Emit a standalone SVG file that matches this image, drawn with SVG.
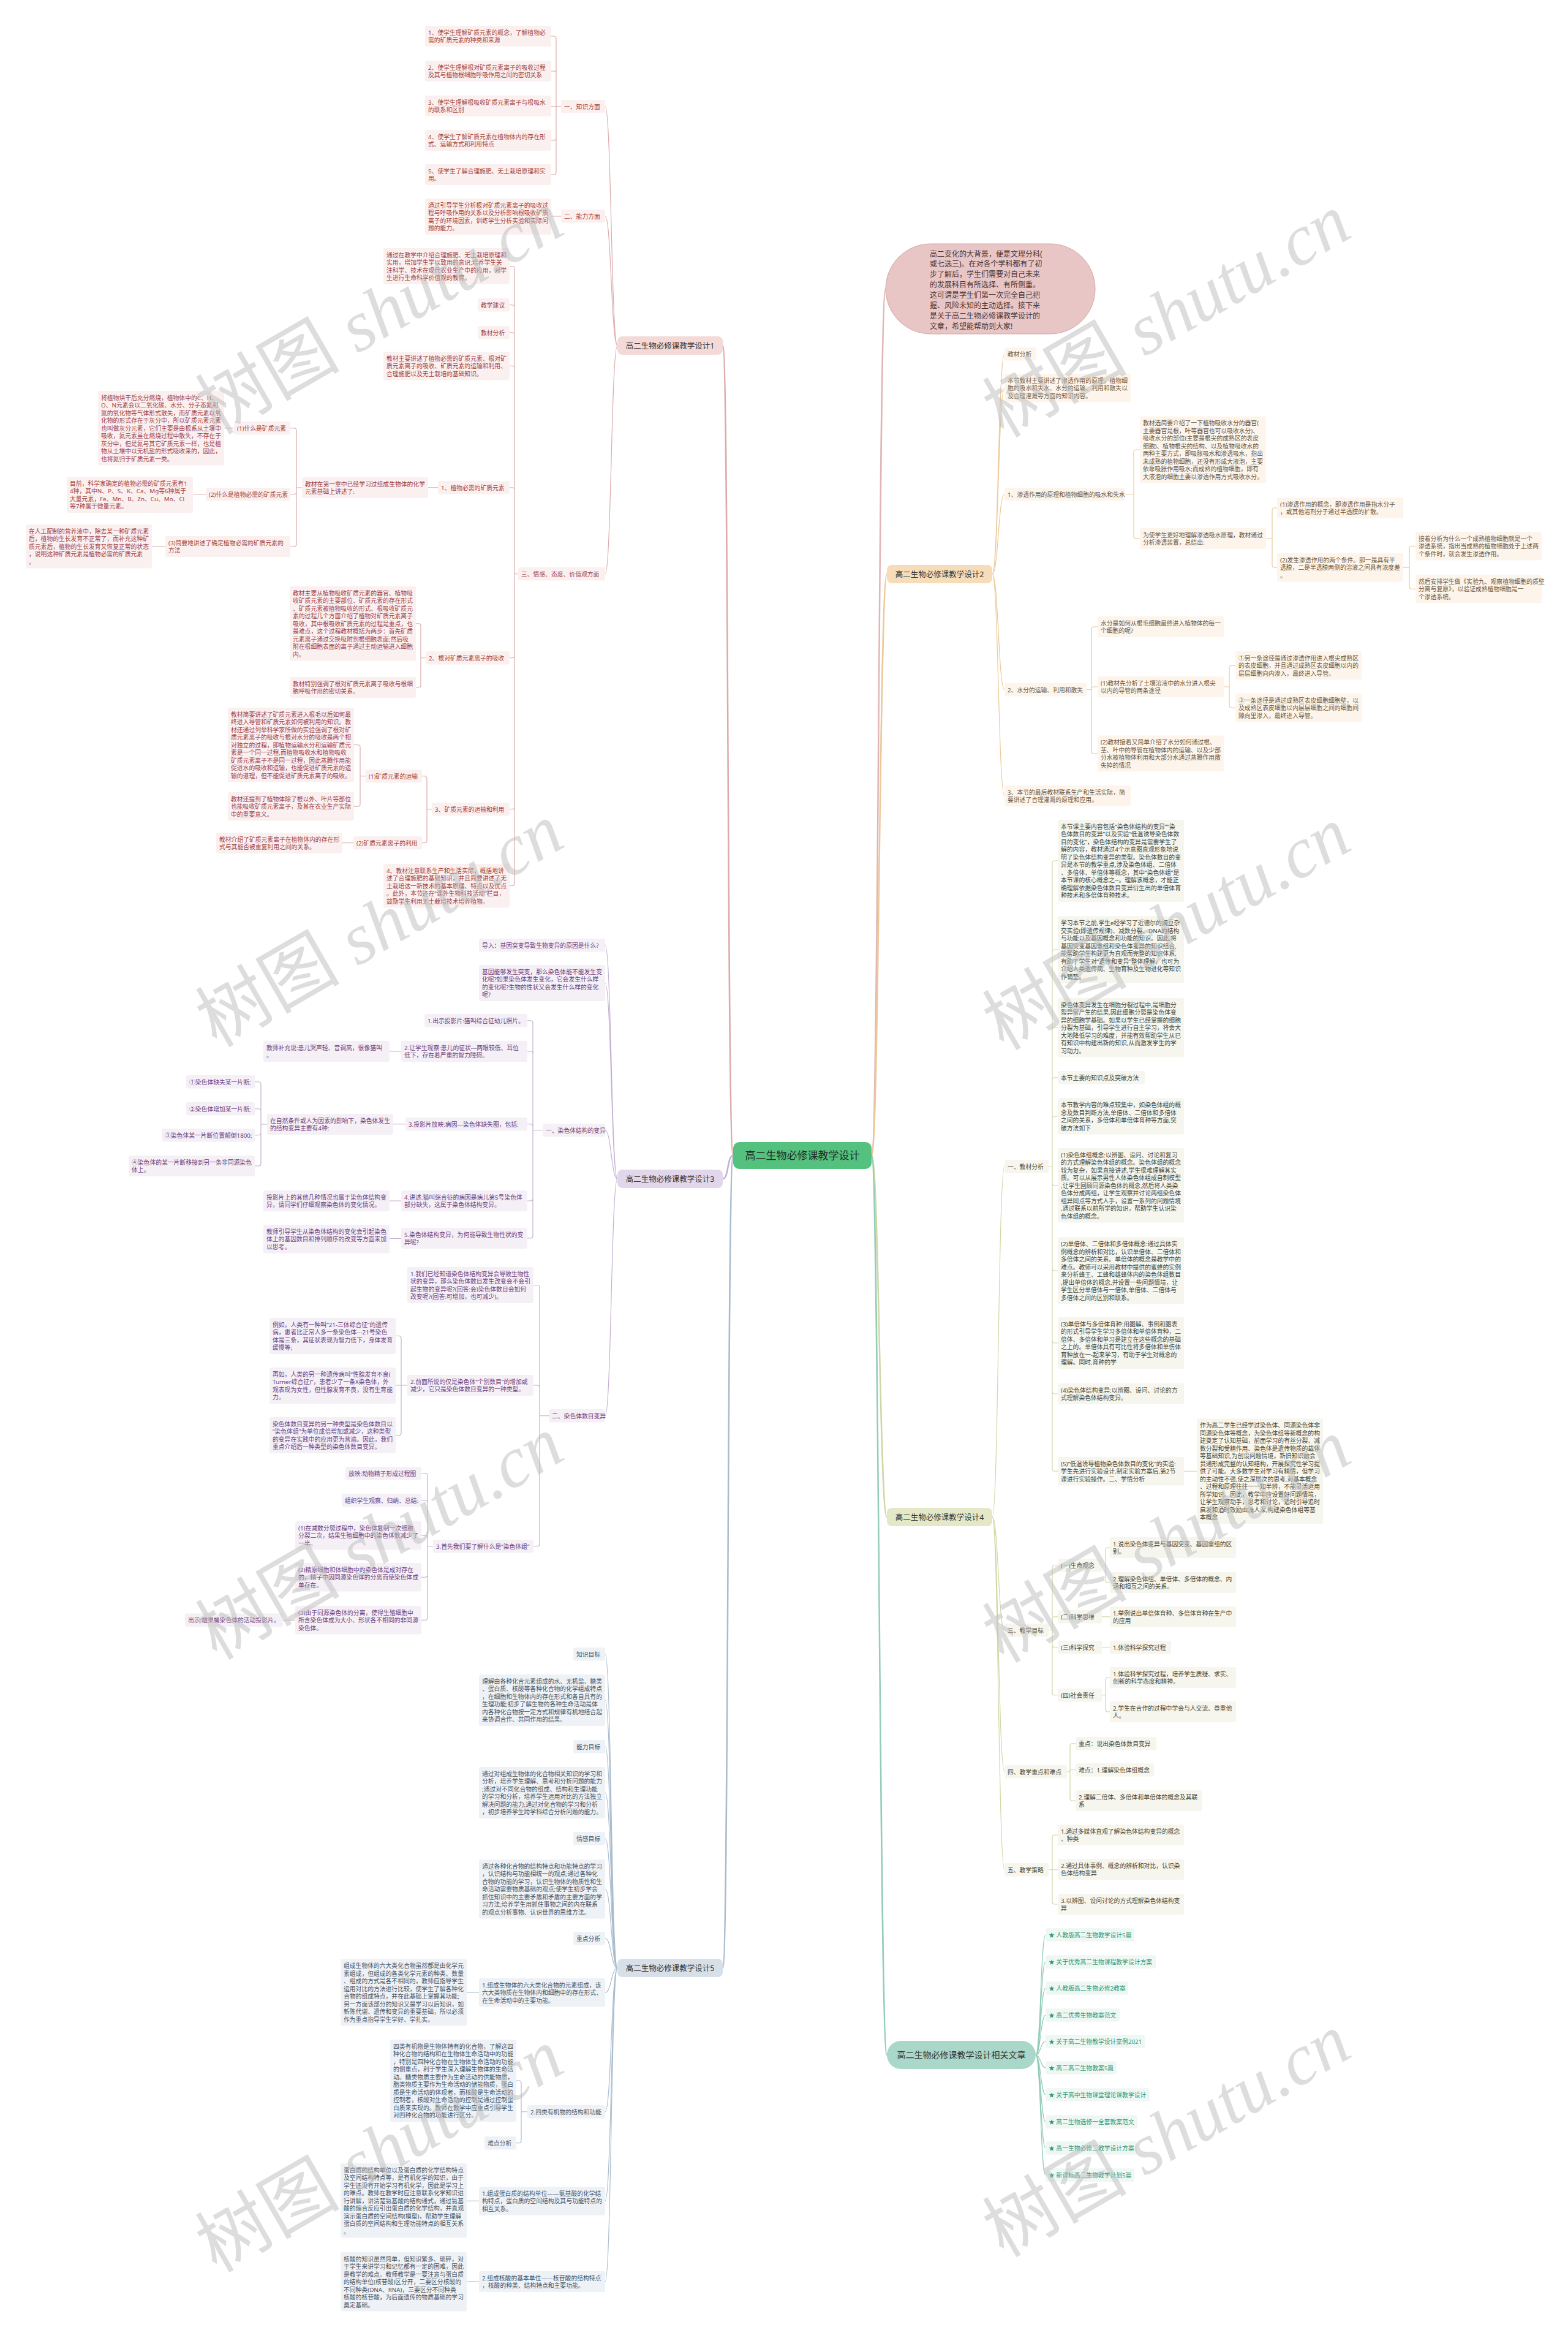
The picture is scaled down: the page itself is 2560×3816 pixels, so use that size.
<svg xmlns="http://www.w3.org/2000/svg" width="2560" height="3816" viewBox="0 0 2560 3816">
<style>
text{font-family:"Noto Sans","Noto Sans CJK SC",sans-serif;font-size:9.8px}
.b1 rect{fill:#fbf0f0}.b1 text{fill:#a2413f}
.b2 rect{fill:#fdf5eb}.b2 text{fill:#6b5640}
.b3 rect{fill:#f4f0f6}.b3 text{fill:#6d3f80}
.b4 rect{fill:#f6f6ee}.b4 text{fill:#45463a}
.b5 rect{fill:#eef2f6}.b5 text{fill:#3f5468}
.b6 rect{fill:#eef7f3}.b6 text{fill:#2b9a7c}
.m text{font-size:12.5px;fill:#333;text-anchor:middle}
.c{fill:none;stroke-width:1.2}
.mc{fill:none;stroke-width:2.5}
.c1{stroke:#dcaaaa}.c2{stroke:#ecc999}.c3{stroke:#c3b0d0}.c4{stroke:#cfd8a4}.c5{stroke:#a9bccd}.c6{stroke:#93cdb9}.c0{stroke:#e2b5b5}
.w text{font-family:"Liberation Serif","Noto Sans CJK SC",serif;font-size:118px;fill:#bdbdbd;opacity:.5;text-anchor:middle}
</style>
<rect width="2560" height="3816" fill="#ffffff"/>

<g id="connectors">
<path class="mc c1" d="M1197 1886C1187 1886 1190 564 1180 564"/>
<path class="mc c3" d="M1197 1886C1187 1886 1190 1924 1180 1924"/>
<path class="mc c5" d="M1197 1886C1187 1886 1190 3212 1180 3212"/>
<path class="mc c0" d="M1423 1886C1435 1886 1434 471.5 1446 471.5"/>
<path class="mc c2" d="M1423 1886C1435 1886 1436 937 1448 937"/>
<path class="mc c4" d="M1423 1886C1435 1886 1436 2476 1448 2476"/>
<path class="mc c6" d="M1423 1886C1435 1886 1436 3354 1448 3354"/>

<path class="c c1" d="M1008 564C998 564 998 173.75 988 173.75M1008 564C998 564 998 352.75 988 352.75M1008 564C998 564 998 936.75 988 936.75"/>
<path class="c c1" d="M916 173.75H908V63Q908 59 904 59H900M916 173.75H908V120Q908 116 904 116H900M916 173.75H900M916 173.75H908V225Q908 229 904 229H900M916 173.75H908V281Q908 285 904 285H900M916 353H900"/>
<path class="c c1" d="M846 936.75H840V438.5Q840 434.5 836 434.5H832M846 936.75H840V501.75Q840 497.75 836 497.75H832M846 936.75H840V546.75Q840 542.75 836 542.75H832M846 936.75H840V601.25Q840 597.25 836 597.25H832M846 936.75H840V799.75Q840 795.75 836 795.75H832M846 936.75H840V1069.75Q840 1073.75 836 1073.75H832M846 936.75H840V1316.75Q840 1320.75 836 1320.75H832M846 936.75H840V1441.75Q840 1445.75 836 1445.75H832"/>
<path class="c c1" d="M715 795.75H699M493 796H484V702.75Q484 698.75 480 698.75H474M493 796H484V802.75Q484 806.75 480 806.75H474M493 796H484V888Q484 892 480 892H474M382 698.75H366M336 806.75H315M270 892H248"/>
<path class="c c1" d="M695 1073.75H687V1021.75Q687 1017.75 683 1017.75H679M695 1073.75H687V1118Q687 1122 683 1122H679M705 1320.75H697V1270.75Q697 1266.75 693 1266.75H689M705 1320.75H697V1371.75Q697 1375.75 693 1375.75H689M597 1266.75H588V1219.75Q588 1215.75 584 1215.75H578M597 1266.75H588V1312.25Q588 1316.25 584 1316.25H578M577 1375.75H559"/>

<path class="c c3" d="M1008 1924C998 1924 998 1542.75 988 1542.75M1008 1924C998 1924 998 1604.5 988 1604.5M1008 1924C998 1924 998 1844.75 988 1844.75M1008 1924C998 1924 998 2310.75 988 2310.75"/>
<path class="c c3" d="M886 1844.75H870V1669.75Q870 1665.75 866 1665.75H861M886 1844.75H870V1720Q870 1716 866 1716H861M886 1844.75H870V1838.75Q870 1834.75 866 1834.75H861M886 1844.75H870V1956Q870 1960 866 1960H861M886 1844.75H870V2017Q870 2021 866 2021H861M655 1716H636M662 1834.75H642M655 1960H636M655 2021.5H636"/>
<path class="c c3" d="M436 1835H426V1769.75Q426 1765.75 422 1765.75H416M436 1835H426V1813.75Q426 1809.75 422 1809.75H416M436 1835H426V1848.75Q426 1852.75 422 1852.75H416M436 1835H426V1899Q426 1903 422 1903H416"/>
<path class="c c3" d="M896 2310.75H881V2101.5Q881 2097.5 877 2097.5H871M896 2310.75H881V2265Q881 2261 877 2261H871M896 2310.75H881V2519.75Q881 2523.75 877 2523.75H871M665 2261H655V2184.5Q655 2180.5 651 2180.5H646M665 2261H646M665 2261H655V2338.5Q655 2342.5 651 2342.5H646"/>
<path class="c c3" d="M707 2523.75H698V2408.75Q698 2404.75 694 2404.75H688M707 2523.75H698V2452.75Q698 2448.75 694 2448.75H688M707 2523.75H698V2510.25Q698 2506.25 694 2506.25H688M707 2523.75H698V2570.25Q698 2574.25 694 2574.25H688M707 2523.75H698V2640.25Q698 2644.25 694 2644.25H688M482 2644.25H462"/>

<path class="c c5" d="M1008 3212C998 3212 998 2699.75 988 2699.75M1008 3212C998 3212 998 2775 988 2775M1008 3212C998 3212 998 2850.75 988 2850.75M1008 3212C998 3212 998 2926 988 2926M1008 3212C998 3212 998 3000.75 988 3000.75M1008 3212C998 3212 998 3083.25 988 3083.25M1008 3212C998 3212 998 3163.75 988 3163.75M1008 3212C998 3212 998 3252.25 988 3252.25M1008 3212C998 3212 998 3446.75 988 3446.75M1008 3212C998 3212 998 3592.25 988 3592.25M1008 3212C998 3212 998 3724 988 3724"/>
<path class="c c5" d="M782 3252.25H762M782 3592.25H762M782 3724H762M861 3446.75H851V3400Q851 3396 847 3396H843M861 3446.75H851V3493.75Q851 3497.75 847 3497.75H843"/>

<path class="c c2" d="M1620 937C1630 937 1630 577.75 1640 577.75M1620 937C1630 937 1630 633.25 1640 633.25M1620 937C1630 937 1630 806.75 1640 806.75M1620 937C1630 937 1630 1125.75 1640 1125.75M1620 937C1630 937 1630 1299 1640 1299"/>
<path class="c c2" d="M1837 806.75H1851V738Q1851 734 1855 734H1861M1837 806.75H1851V875Q1851 879 1855 879H1861M2067 879H2077V833Q2077 829 2081 829H2085M2067 879H2077V922.25Q2077 926.25 2081 926.25H2085M2291 926.25H2301V895.25Q2301 891.25 2305 891.25H2311M2291 926.25H2301V957.25Q2301 961.25 2305 961.25H2311"/>
<path class="c c2" d="M1774 1125.75H1782V1027Q1782 1023 1786 1023H1792M1774 1125.75H1782V1125Q1782 1121 1786 1121H1792M1774 1125.75H1782V1226Q1782 1230 1786 1230H1792M1998 1121H2007V1090.25Q2007 1086.25 2011 1086.25H2017M1998 1121H2007V1151.25Q2007 1155.25 2011 1155.25H2017"/>

<path class="c c4" d="M1620 2476C1630 2476 1630 1903.75 1640 1903.75M1620 2476C1630 2476 1630 2660.75 1640 2660.75M1620 2476C1630 2476 1630 2891.75 1640 2891.75M1620 2476C1630 2476 1630 3051.75 1640 3051.75"/>
<path class="c c4" d="M1712 1903.75H1718V1409Q1718 1405 1722 1405H1727M1712 1903.75H1718V1554Q1718 1550 1722 1550H1727M1712 1903.75H1718V1681.25Q1718 1677.25 1722 1677.25H1727M1712 1903.75H1718V1762.75Q1718 1758.75 1722 1758.75H1727M1712 1903.75H1718V1826Q1718 1822 1722 1822H1727M1712 1903.75H1718V1930.75Q1718 1934.75 1722 1934.75H1727M1712 1903.75H1718V2070Q1718 2074 1722 2074H1727M1712 1903.75H1718V2188Q1718 2192 1722 2192H1727M1712 1903.75H1718V2271Q1718 2275 1722 2275H1727M1712 1903.75H1718V2397.25Q1718 2401.25 1722 2401.25H1727M1933 2401.25H1954"/>
<path class="c c4" d="M1712 2660.75H1718V2558.75Q1718 2554.75 1722 2554.75H1727M1712 2660.75H1718V2642.75Q1718 2638.75 1722 2638.75H1727M1712 2660.75H1718V2684.75Q1718 2688.75 1722 2688.75H1727M1712 2660.75H1718V2762.75Q1718 2766.75 1722 2766.75H1727M1799 2554.75H1805V2530Q1805 2526 1809 2526H1812M1799 2554.75H1805V2579Q1805 2583 1809 2583H1812M1799 2638.75H1812M1799 2688.75H1812M1799 2766.75H1805V2742Q1805 2738 1809 2738H1812M1799 2766.75H1805V2790Q1805 2794 1809 2794H1812"/>
<path class="c c4" d="M1742 2891.75H1747V2849.75Q1747 2845.75 1751 2845.75H1756M1742 2891.75H1747V2888.75H1756M1742 2891.75H1747V2935Q1747 2939 1751 2939H1756M1712 3051.75H1718V2999Q1718 2995 1722 2995H1727M1712 3051.75H1727M1712 3051.75H1718V3104Q1718 3108 1722 3108H1727"/>

<path class="c c6" d="M1691 3354C1699 3354 1699 3158 1707 3158M1691 3354C1699 3354 1699 3202 1707 3202M1691 3354C1699 3354 1699 3245 1707 3245M1691 3354C1699 3354 1699 3289 1707 3289M1691 3354C1699 3354 1699 3332 1707 3332M1691 3354C1699 3354 1699 3375 1707 3375M1691 3354C1699 3354 1699 3419 1707 3419M1691 3354C1699 3354 1699 3463 1707 3463M1691 3354C1699 3354 1699 3506 1707 3506M1691 3354C1699 3354 1699 3550 1707 3550"/>
</g>

<g id="center" class="m"><rect x="1197" y="1864" width="226" height="44" rx="10" fill="#55c17f"/><text x="1310" y="1892" style="font-size:17px;fill:#1e2e24">高二生物必修课教学设计</text></g>

<g id="intro"><rect x="1446" y="398" width="342" height="147" rx="73.5" fill="#e9c6c6" stroke="#d6a2a2" stroke-width="1"/>
<text x="1518" y="418.5" style="font-size:12px;fill:#4a3535"><tspan x="1518">高二变化的大背景，便是文理分科(</tspan><tspan x="1518" dy="16.9">或七选三)。在对各个学科都有了初</tspan><tspan x="1518" dy="16.9">步了解后，学生们需要对自己未来</tspan><tspan x="1518" dy="16.9">的发展科目有所选择、有所侧重。</tspan><tspan x="1518" dy="16.9">这可谓是学生们第一次完全自己把</tspan><tspan x="1518" dy="16.9">握、风险未知的主动选择。接下来</tspan><tspan x="1518" dy="16.9">是关于高二生物必修课教学设计的</tspan><tspan x="1518" dy="16.9">文章，希望能帮助到大家!</tspan></text></g>

<!-- Branch 1 -->
<g id="n1" class="m"><rect x="1008" y="549" width="172" height="30" rx="8" fill="#f3d9d7"/><text x="1094" y="568.5">高二生物必修课教学设计1</text></g>
<g class="b1">
<g id="b1-k1"><rect x="916" y="163" width="72" height="21.5" rx="3"/><text x="921" y="177.5">一、知识方面</text></g>
<g id="b1-k2"><rect x="916" y="342" width="72" height="21.5" rx="3"/><text x="921" y="356.5">二、能力方面</text></g>
<g id="b1-k3"><rect x="846" y="926" width="142" height="21.5" rx="3"/><text x="851" y="940.5">三、情感、态度、价值观方面</text></g>
<g id="b1-k1a"><rect x="694" y="42" width="206" height="34" rx="3"/><text y="56.5"><tspan x="699">1、使学生理解矿质元素的概念，了解植物必</tspan><tspan x="699" dy="12.5">需的矿质元素的种类和来源</tspan></text></g>
<g id="b1-k1b"><rect x="694" y="99" width="206" height="34" rx="3"/><text y="113.5"><tspan x="699">2、使学生理解根对矿质元素离子的吸收过程</tspan><tspan x="699" dy="12.5">及其与植物根细胞呼吸作用之间的密切关系</tspan></text></g>
<g id="b1-k1c"><rect x="694" y="156" width="206" height="34" rx="3"/><text y="170.5"><tspan x="699">3、使学生理解根吸收矿质元素离子与根吸水</tspan><tspan x="699" dy="12.5">的联系和区别</tspan></text></g>
<g id="b1-k1d"><rect x="694" y="212" width="206" height="34" rx="3"/><text y="226.5"><tspan x="699">4、使学生了解矿质元素在植物体内的存在形</tspan><tspan x="699" dy="12.5">式、运输方式和利用特点</tspan></text></g>
<g id="b1-k1e"><rect x="694" y="268" width="206" height="34" rx="3"/><text y="282.5"><tspan x="699">5、使学生了解合理施肥、无土栽培原理和实</tspan><tspan x="699" dy="12.5">用。</tspan></text></g>
<g id="b1-k2a"><rect x="694" y="324" width="206" height="59" rx="3"/><text y="338.5"><tspan x="699">通过引导学生分析根对矿质元素离子的吸收过</tspan><tspan x="699" dy="12.5">程与呼吸作用的关系以及分析影响根吸收矿质</tspan><tspan x="699" dy="12.5">离子的环境因素，训练学生分析实验和实际问</tspan><tspan x="699" dy="12.5">题的能力。</tspan></text></g>
<g id="b1-k3a"><rect x="626" y="405" width="206" height="59" rx="3"/><text y="419.5"><tspan x="631">通过在教学中介绍合理施肥、无土栽培原理和</tspan><tspan x="631" dy="12.5">实用，增加学生学以致用的意识;培养学生关</tspan><tspan x="631" dy="12.5">注科学、技术在现代农业生产中的应用，对学</tspan><tspan x="631" dy="12.5">生进行生命科学价值观的教育。</tspan></text></g>
<g id="b1-k3b"><rect x="780" y="487" width="52" height="21.5" rx="3"/><text x="785" y="501.5">教学建议</text></g>
<g id="b1-k3c"><rect x="780" y="532" width="52" height="21.5" rx="3"/><text x="785" y="546.5">教材分析</text></g>
<g id="b1-k3d"><rect x="626" y="574" width="206" height="46.5" rx="3"/><text y="588.5"><tspan x="631">教材主要讲述了植物必需的矿质元素、根对矿</tspan><tspan x="631" dy="12.5">质元素离子的吸收、矿质元素的运输和利用、</tspan><tspan x="631" dy="12.5">合理施肥以及无土栽培的基础知识。</tspan></text></g>
<g id="b1-k3e"><rect x="715" y="785" width="117" height="21.5" rx="3"/><text x="720" y="799.5">1、植物必需的矿质元素</text></g>
<g id="b1-k3f"><rect x="695" y="1063" width="137" height="21.5" rx="3"/><text x="700" y="1077.5">2、根对矿质元素离子的吸收</text></g>
<g id="b1-k3g"><rect x="705" y="1310" width="127" height="21.5" rx="3"/><text x="710" y="1324.5">3、矿质元素的运输和利用</text></g>
<g id="b1-k3h"><rect x="626" y="1410" width="206" height="71.5" rx="3"/><text y="1424.5"><tspan x="631">4、教材注意联系生产和生活实际，概括地讲</tspan><tspan x="631" dy="12.5">述了合理施肥的基础知识，并且简要讲述了无</tspan><tspan x="631" dy="12.5">土栽培这一新技术的基本原理、特点以及优点</tspan><tspan x="631" dy="12.5">。此外，本节还在“课外生物科技活动”栏目，</tspan><tspan x="631" dy="12.5">鼓励学生利用无土栽培技术培养植物。</tspan></text></g>
<g id="b1-e1"><rect x="493" y="779" width="206" height="34" rx="3"/><text y="793.5"><tspan x="498">教材在第一章中已经学习过组成生物体的化学</tspan><tspan x="498" dy="12.5">元素基础上讲述了:</tspan></text></g>
<g id="b1-p1"><rect x="382" y="688" width="92" height="21.5" rx="3"/><text x="387" y="702.5">(1)什么是矿质元素</text></g>
<g id="b1-p2"><rect x="336" y="796" width="138" height="21.5" rx="3"/><text x="341" y="810.5">(2)什么是植物必需的矿质元素</text></g>
<g id="b1-p3"><rect x="270" y="875" width="204" height="34" rx="3"/><text y="889.5"><tspan x="275">(3)简要地讲述了确定植物必需的矿质元素的</tspan><tspan x="275" dy="12.5">方法</tspan></text></g>
<g id="b1-f1"><rect x="160" y="638" width="206" height="121.5" rx="3"/><text y="652.5"><tspan x="165">将植物烘干后充分燃烧，植物体中的C、H、</tspan><tspan x="165" dy="12.5">O、N元素会以二氧化碳、水分、分子态氮和</tspan><tspan x="165" dy="12.5">氮的氧化物等气体形式散失，而矿质元素以氧</tspan><tspan x="165" dy="12.5">化物的形式存在于灰分中，所以矿质元素元素</tspan><tspan x="165" dy="12.5">也叫做灰分元素，它们主要是由根系从土壤中</tspan><tspan x="165" dy="12.5">吸收，氮元素虽在燃烧过程中散失，不存在于</tspan><tspan x="165" dy="12.5">灰分中，但是氮与其它矿质元素一样，也是植</tspan><tspan x="165" dy="12.5">物从土壤中以无机盐的形式吸收来的，因此，</tspan><tspan x="165" dy="12.5">也将氮归于矿质元素一类。</tspan></text></g>
<g id="b1-f2"><rect x="109" y="778" width="206" height="59" rx="3"/><text y="792.5"><tspan x="114">目前，科学家确定的植物必需的矿质元素有1</tspan><tspan x="114" dy="12.5">4种，其中N、P、S、K、Ca、Mg等6种属于</tspan><tspan x="114" dy="12.5">大量元素，Fe、Mn、B、Zn、Cu、Mo、Cl</tspan><tspan x="114" dy="12.5">等7种属于微量元素。</tspan></text></g>
<g id="b1-f3"><rect x="42" y="856" width="206" height="71.5" rx="3"/><text y="870.5"><tspan x="47">在人工配制的营养液中，除去某一种矿质元素</tspan><tspan x="47" dy="12.5">后，植物的生长发育不正常了，而补充这种矿</tspan><tspan x="47" dy="12.5">质元素后，植物的生长发育又恢复正常的状态</tspan><tspan x="47" dy="12.5">，说明这种矿质元素是植物必需的矿质元素</tspan><tspan x="47" dy="12.5">。</tspan></text></g>
<g id="b1-bb1"><rect x="473" y="957" width="206" height="121.5" rx="3"/><text y="971.5"><tspan x="478">教材主要从植物吸收矿质元素的器官、植物吸</tspan><tspan x="478" dy="12.5">收矿质元素的主要部位、矿质元素的存在形式</tspan><tspan x="478" dy="12.5">、矿质元素被植物吸收的形式、根吸收矿质元</tspan><tspan x="478" dy="12.5">素的过程几个方面介绍了植物对矿质元素离子</tspan><tspan x="478" dy="12.5">吸收，其中根吸收矿质元素的过程是重点，也</tspan><tspan x="478" dy="12.5">是难点，这个过程教材概括为两步：首先矿质</tspan><tspan x="478" dy="12.5">元素离子通过交换吸附到根细胞表面;然后吸</tspan><tspan x="478" dy="12.5">附在根细胞表面的离子通过主动运输进入细胞</tspan><tspan x="478" dy="12.5">内。</tspan></text></g>
<g id="b1-bb2"><rect x="473" y="1105" width="206" height="34" rx="3"/><text y="1119.5"><tspan x="478">教材特别强调了根对矿质元素离子吸收与根细</tspan><tspan x="478" dy="12.5">胞呼吸作用的密切关系。</tspan></text></g>
<g id="b1-q1"><rect x="597" y="1256" width="92" height="21.5" rx="3"/><text x="602" y="1270.5">(1)矿质元素的运输</text></g>
<g id="b1-q2"><rect x="577" y="1365" width="112" height="21.5" rx="3"/><text x="582" y="1379.5">(2)矿质元素离子的利用</text></g>
<g id="b1-g1"><rect x="372" y="1155" width="206" height="121.5" rx="3"/><text y="1169.5"><tspan x="377">教材简要讲述了矿质元素进入根毛以后如何最</tspan><tspan x="377" dy="12.5">终进入导管和矿质元素如何被利用的知识。教</tspan><tspan x="377" dy="12.5">材还通过列举科学家所做的实验强调了根对矿</tspan><tspan x="377" dy="12.5">质元素离子的吸收与根对水分的吸收是两个相</tspan><tspan x="377" dy="12.5">对独立的过程，即植物运输水分和运输矿质元</tspan><tspan x="377" dy="12.5">素是一个同一过程,而植物吸收水和植物吸收</tspan><tspan x="377" dy="12.5">矿质元素离子不是同一过程，因此蒸腾作用能</tspan><tspan x="377" dy="12.5">促进水的吸收和运输，也能促进矿质元素的运</tspan><tspan x="377" dy="12.5">输的道理，但不能促进矿质元素离子的吸收。</tspan></text></g>
<g id="b1-g2"><rect x="372" y="1293" width="206" height="46.5" rx="3"/><text y="1307.5"><tspan x="377">教材还提到了植物体除了根以外、叶片等部位</tspan><tspan x="377" dy="12.5">也能吸收矿质元素离子，及其在农业生产实际</tspan><tspan x="377" dy="12.5">中的重要意义。</tspan></text></g>
<g id="b1-g3"><rect x="353" y="1359" width="206" height="34" rx="3"/><text y="1373.5"><tspan x="358">教材介绍了矿质元素离子在植物体内的存在形</tspan><tspan x="358" dy="12.5">式与其能否被重复利用之间的关系。</tspan></text></g>
</g>

<!-- Branch 3 -->
<g id="n3" class="m"><rect x="1008" y="1909" width="172" height="30" rx="8" fill="#e2d7ea"/><text x="1094" y="1928.5">高二生物必修课教学设计3</text></g>
<g class="b3">
<g id="b3-a"><rect x="782" y="1532" width="206" height="21.5" rx="3"/><text x="787" y="1546.5">导入：基因突变导致生物变异的原因是什么?</text></g>
<g id="b3-b"><rect x="782" y="1575" width="206" height="59" rx="3"/><text y="1589.5"><tspan x="787">基因能够发生突变，那么染色体能不能发生变</tspan><tspan x="787" dy="12.5">化呢?如果染色体发生变化，它会发生什么样</tspan><tspan x="787" dy="12.5">的变化呢?生物的性状又会发生什么样的变化</tspan><tspan x="787" dy="12.5">呢?</tspan></text></g>
<g id="b3-c"><rect x="886" y="1834" width="102" height="21.5" rx="3"/><text x="891" y="1848.5">一、染色体结构的变异</text></g>
<g id="b3-d"><rect x="896" y="2300" width="92" height="21.5" rx="3"/><text x="901" y="2314.5">二、染色体数目变异</text></g>
<g id="b3-s1"><rect x="693" y="1655" width="168" height="21.5" rx="3"/><text x="698" y="1669.5">1.出示投影片:猫叫综合征幼儿照片。</text></g>
<g id="b3-s2"><rect x="655" y="1699" width="206" height="34" rx="3"/><text y="1713.5"><tspan x="660">2.让学生观察:患儿的征状---两眼较低、耳位</tspan><tspan x="660" dy="12.5">低下，存在着严重的智力障碍。</tspan></text></g>
<g id="b3-s3"><rect x="662" y="1824" width="199" height="21.5" rx="3"/><text x="667" y="1838.5">3.投影片放映:病因---染色体缺失图，包括:</text></g>
<g id="b3-s4"><rect x="655" y="1943" width="206" height="34" rx="3"/><text y="1957.5"><tspan x="660">4.讲述:猫叫综合征的病因是病儿第5号染色体</tspan><tspan x="660" dy="12.5">部分缺失，这属于染色体结构变异。</tspan></text></g>
<g id="b3-s5"><rect x="655" y="2004" width="206" height="34" rx="3"/><text y="2018.5"><tspan x="660">5.染色体结构变异，为何能导致生物性状的变</tspan><tspan x="660" dy="12.5">异呢?</tspan></text></g>
<g id="b3-t2"><rect x="430" y="1699" width="206" height="34" rx="3"/><text y="1713.5"><tspan x="435">教师补充说:患儿哭声轻、音调高，很像猫叫</tspan><tspan x="435" dy="12.5">。</tspan></text></g>
<g id="b3-t3"><rect x="436" y="1818" width="206" height="34" rx="3"/><text y="1832.5"><tspan x="441">在自然条件或人为因素的影响下，染色体发生</tspan><tspan x="441" dy="12.5">的结构变异主要有4种:</tspan></text></g>
<g id="b3-u1"><rect x="304" y="1755" width="112" height="21.5" rx="3"/><text x="309" y="1769.5">①染色体缺失某一片断;</text></g>
<g id="b3-u2"><rect x="304" y="1799" width="112" height="21.5" rx="3"/><text x="309" y="1813.5">②染色体增加某一片断;</text></g>
<g id="b3-u3"><rect x="264" y="1842" width="152" height="21.5" rx="3"/><text x="269" y="1856.5">③染色体某一片断位置颠倒1800;</text></g>
<g id="b3-u4"><rect x="210" y="1886" width="206" height="34" rx="3"/><text y="1900.5"><tspan x="215">④染色体的某一片断移接到另一条非同源染色</tspan><tspan x="215" dy="12.5">体上。</tspan></text></g>
<g id="b3-t4"><rect x="430" y="1943" width="206" height="34" rx="3"/><text y="1957.5"><tspan x="435">投影片上的其他几种情况也属于染色体结构变</tspan><tspan x="435" dy="12.5">异，请同学们仔细观察染色体的变化情况。</tspan></text></g>
<g id="b3-t5"><rect x="430" y="1999" width="206" height="46.5" rx="3"/><text y="2013.5"><tspan x="435">教师引导学生从染色体结构的变化会引起染色</tspan><tspan x="435" dy="12.5">体上的基因数目和排列顺序的改变等方面来加</tspan><tspan x="435" dy="12.5">以思考。</tspan></text></g>
<g id="b3-n1"><rect x="665" y="2068" width="206" height="59" rx="3"/><text y="2082.5"><tspan x="670">1.我们已经知道染色体结构变异会导致生物性</tspan><tspan x="670" dy="12.5">状的变异，那么染色体数目发生改变会不会引</tspan><tspan x="670" dy="12.5">起生物的变异呢?(回答:会)染色体数目会如何</tspan><tspan x="670" dy="12.5">改变呢?(回答:可增加，也可减少)。</tspan></text></g>
<g id="b3-n2"><rect x="665" y="2244" width="206" height="34" rx="3"/><text y="2258.5"><tspan x="670">2.前面所说的仅是染色体“个别数目”的增加或</tspan><tspan x="670" dy="12.5">减少，它只是染色体数目变异的一种类型。</tspan></text></g>
<g id="b3-n3"><rect x="707" y="2513" width="164" height="21.5" rx="3"/><text x="712" y="2527.5">3.首先我们要了解什么是“染色体组”</text></g>
<g id="b3-m1"><rect x="440" y="2151" width="206" height="59" rx="3"/><text y="2165.5"><tspan x="445">例如，人类有一种叫“21-三体综合征”的遗传</tspan><tspan x="445" dy="12.5">病，患者比正常人多一条染色体---21号染色</tspan><tspan x="445" dy="12.5">体是三条，其征状表现为智力低下，身体发育</tspan><tspan x="445" dy="12.5">缓慢等;</tspan></text></g>
<g id="b3-m2"><rect x="440" y="2232" width="206" height="59" rx="3"/><text y="2246.5"><tspan x="445">再如，人类的另一种遗传病叫“性腺发育不良(</tspan><tspan x="445" dy="12.5">Turner综合征)”，患者少了一条X染色体，外</tspan><tspan x="445" dy="12.5">观表现为女性，但性腺发育不良，没有生育能</tspan><tspan x="445" dy="12.5">力。</tspan></text></g>
<g id="b3-m3"><rect x="440" y="2313" width="206" height="59" rx="3"/><text y="2327.5"><tspan x="445">染色体数目变异的另一种类型是染色体数目以</tspan><tspan x="445" dy="12.5">“染色体组”为单位成倍增加或减少，这种类型</tspan><tspan x="445" dy="12.5">的变异在实践中的应用更为普遍。因此，我们</tspan><tspan x="445" dy="12.5">重点介绍后一种类型的染色体数目变异。</tspan></text></g>
<g id="b3-p1"><rect x="564" y="2394" width="124" height="21.5" rx="3"/><text x="569" y="2408.5">放映:动物精子形成过程图</text></g>
<g id="b3-p2"><rect x="558" y="2438" width="130" height="21.5" rx="3"/><text x="563" y="2452.5">组织学生观察、归纳、总结:</text></g>
<g id="b3-p3"><rect x="482" y="2483" width="206" height="46.5" rx="3"/><text y="2497.5"><tspan x="487">(1)在减数分裂过程中，染色体复制一次细胞</tspan><tspan x="487" dy="12.5">分裂二次，结果生殖细胞中的染色体数减少了</tspan><tspan x="487" dy="12.5">一半。</tspan></text></g>
<g id="b3-p4"><rect x="482" y="2551" width="206" height="46.5" rx="3"/><text y="2565.5"><tspan x="487">(2)精原细胞和体细胞中的染色体是成对存在</tspan><tspan x="487" dy="12.5">的，精子中因同源染色体的分离而使染色体成</tspan><tspan x="487" dy="12.5">单存在。</tspan></text></g>
<g id="b3-p5"><rect x="482" y="2621" width="206" height="46.5" rx="3"/><text y="2635.5"><tspan x="487">(3)由于同源染色体的分离，使得生殖细胞中</tspan><tspan x="487" dy="12.5">所含染色体成为大小、形状各不相同的非同源</tspan><tspan x="487" dy="12.5">染色体。</tspan></text></g>
<g id="b3-p6"><rect x="302" y="2633.5" width="160" height="21.5" rx="3"/><text x="307" y="2648">出示:雄果蝇染色体的活动投影片。</text></g>
</g>

<!-- Branch 5 -->
<g id="n5" class="m"><rect x="1008" y="3197" width="172" height="30" rx="8" fill="#d7e0e9"/><text x="1094" y="3216.5">高二生物必修课教学设计5</text></g>
<g class="b5">
<g id="b5-z1"><rect x="936" y="2689" width="52" height="21.5" rx="3"/><text x="941" y="2703.5">知识目标</text></g>
<g id="b5-r1"><rect x="782" y="2733" width="206" height="84" rx="3"/><text y="2747.5"><tspan x="787">理解由各种化合元素组成的水、无机盐、糖类</tspan><tspan x="787" dy="12.5">、蛋白质、核酸等各种化合物的化学组成特点</tspan><tspan x="787" dy="12.5">，在细胞和生物体内的存在形式和各自具有的</tspan><tspan x="787" dy="12.5">生理功能;初步了解生物的各种生命活动是体</tspan><tspan x="787" dy="12.5">内各种化合物按一定方式和规律有机地结合起</tspan><tspan x="787" dy="12.5">来协调合作、共同作用的结果。</tspan></text></g>
<g id="b5-z2"><rect x="936" y="2840" width="52" height="21.5" rx="3"/><text x="941" y="2854.5">能力目标</text></g>
<g id="b5-r2"><rect x="782" y="2884" width="206" height="84" rx="3"/><text y="2898.5"><tspan x="787">通过对组成生物体的化合物相关知识的学习和</tspan><tspan x="787" dy="12.5">分析，培养学生理解、思考和分析问题的能力</tspan><tspan x="787" dy="12.5">;通过对不同化合物的组成、结构和生理功能</tspan><tspan x="787" dy="12.5">的学习和分析，培养学生运用对比的方法独立</tspan><tspan x="787" dy="12.5">解决问题的能力;通过对化合物的学习和分析</tspan><tspan x="787" dy="12.5">，初步培养学生跨学科综合分析问题的能力。</tspan></text></g>
<g id="b5-z3"><rect x="936" y="2990" width="52" height="21.5" rx="3"/><text x="941" y="3004.5">情感目标</text></g>
<g id="b5-r3"><rect x="782" y="3035" width="206" height="96.5" rx="3"/><text y="3049.5"><tspan x="787">通过各种化合物的结构特点和功能特点的学习</tspan><tspan x="787" dy="12.5">，认识结构与功能相统一的观点;通过各种化</tspan><tspan x="787" dy="12.5">合物的功能的学习，认识生物体的物质性和生</tspan><tspan x="787" dy="12.5">命活动需要物质基础的观点;使学生初步学会</tspan><tspan x="787" dy="12.5">抓住知识中的主要矛盾和矛盾的主要方面的学</tspan><tspan x="787" dy="12.5">习方法;培养学生用抓住事物之间的内在联系</tspan><tspan x="787" dy="12.5">的观点分析事物、认识世界的思维方法。</tspan></text></g>
<g id="b5-z4"><rect x="936" y="3153" width="52" height="21.5" rx="3"/><text x="941" y="3167.5">重点分析</text></g>
<g id="b5-r4"><rect x="782" y="3229" width="206" height="46.5" rx="3"/><text y="3243.5"><tspan x="787">1.组成生物体的六大类化合物的元素组成，该</tspan><tspan x="787" dy="12.5">六大类物质在生物体内和细胞中的存在形式、</tspan><tspan x="787" dy="12.5">在生命活动中的主要功能。</tspan></text></g>
<g id="b5-r5"><rect x="861" y="3436" width="127" height="21.5" rx="3"/><text x="866" y="3450.5">2.四类有机物的结构和功能</text></g>
<g id="b5-r6"><rect x="782" y="3569" width="206" height="46.5" rx="3"/><text y="3583.5"><tspan x="787">1.组成蛋白质的结构单位——氨基酸的化学结</tspan><tspan x="787" dy="12.5">构特点，蛋白质的空间结构及其与功能特点的</tspan><tspan x="787" dy="12.5">相互关系。</tspan></text></g>
<g id="b5-r7"><rect x="782" y="3707" width="206" height="34" rx="3"/><text y="3721.5"><tspan x="787">2.组成核酸的基本单位——核苷酸的结构特点</tspan><tspan x="787" dy="12.5">，核酸的种类、结构特点和主要功能。</tspan></text></g>
<g id="b5-q1"><rect x="556" y="3197.5" width="206" height="109" rx="3"/><text y="3212"><tspan x="561">组成生物体的六大类化合物虽然都是由化学元</tspan><tspan x="561" dy="12.5">素组成，但组成的各类化学元素的种类、数量</tspan><tspan x="561" dy="12.5">、组成的方式是各不相同的，教师应指导学生</tspan><tspan x="561" dy="12.5">运用对比的方法进行比较，使学生了解各种化</tspan><tspan x="561" dy="12.5">合物的组成特点，并在此基础上掌握其功能;</tspan><tspan x="561" dy="12.5">另一方面该部分的知识又是学习以后知识，如</tspan><tspan x="561" dy="12.5">新陈代谢、遗传和变异的重要基础，所以必须</tspan><tspan x="561" dy="12.5">作为重点指导学生学好、学扎实。</tspan></text></g>
<g id="b5-q2"><rect x="637" y="3329" width="206" height="134" rx="3"/><text y="3343.5"><tspan x="642">四类有机物是生物体特有的化合物，了解这四</tspan><tspan x="642" dy="12.5">种化合物的结构和在生物体生命活动中的功能</tspan><tspan x="642" dy="12.5">，特别是四种化合物在生物体生命活动的功能</tspan><tspan x="642" dy="12.5">的侧重点，利于学生深入理解生物体的生命活</tspan><tspan x="642" dy="12.5">动。糖类物质主要作为生命活动的供能物质，</tspan><tspan x="642" dy="12.5">脂类物质主要作为生命活动的储能物质，蛋白</tspan><tspan x="642" dy="12.5">质是生命活动的体现者，而核酸是生命活动的</tspan><tspan x="642" dy="12.5">控制者，核酸对生命活动的控制是通过控制蛋</tspan><tspan x="642" dy="12.5">白质来实现的。教师在教学中应重点引导学生</tspan><tspan x="642" dy="12.5">对四种化合物的功能进行区分。</tspan></text></g>
<g id="b5-q2b"><rect x="791" y="3487" width="52" height="21.5" rx="3"/><text x="796" y="3501.5">难点分析</text></g>
<g id="b5-q3"><rect x="556" y="3531" width="206" height="121.5" rx="3"/><text y="3545.5"><tspan x="561">蛋白质的结构单位以及蛋白质的化学结构特点</tspan><tspan x="561" dy="12.5">及空间结构特点等，是有机化学的知识，由于</tspan><tspan x="561" dy="12.5">学生还没有开始学习有机化学，因此是学习上</tspan><tspan x="561" dy="12.5">的难点。教师在教学时应注意联系化学知识进</tspan><tspan x="561" dy="12.5">行讲解，讲清楚氨基酸的结构通式，通过氨基</tspan><tspan x="561" dy="12.5">酸的缩合反应引出蛋白质的化学结构，并直观</tspan><tspan x="561" dy="12.5">演示蛋白质的空间结构(模型)，帮助学生理解</tspan><tspan x="561" dy="12.5">蛋白质的空间结构和生理功能特点的相互关系</tspan><tspan x="561" dy="12.5">。</tspan></text></g>
<g id="b5-q4"><rect x="556" y="3676" width="206" height="96.5" rx="3"/><text y="3690.5"><tspan x="561">核酸的知识虽然简单，但知识繁多、琐碎，对</tspan><tspan x="561" dy="12.5">于学生来讲学习和记忆都有一定的困难，因此</tspan><tspan x="561" dy="12.5">是教学的难点。教师教学是一要注意与蛋白质</tspan><tspan x="561" dy="12.5">的结构单位(核苷酸)区分开，二要区分核酸的</tspan><tspan x="561" dy="12.5">不同种类(DNA、RNA)，三要区分不同种类</tspan><tspan x="561" dy="12.5">核酸的核苷酸，为后面遗传的物质基础的学习</tspan><tspan x="561" dy="12.5">奠定基础。</tspan></text></g>
</g>

<!-- Branch 2 -->
<g id="n2" class="m"><rect x="1448" y="922" width="172" height="30" rx="8" fill="#f7dcb9"/><text x="1534" y="941.5">高二生物必修课教学设计2</text></g>
<g class="b2">
<g id="b2-c0"><rect x="1640" y="567" width="52" height="21.5" rx="3"/><text x="1645" y="581.5">教材分析</text></g>
<g id="b2-c1"><rect x="1640" y="610" width="206" height="46.5" rx="3"/><text y="624.5"><tspan x="1645">本节教材主要讲述了渗透作用的原理，植物细</tspan><tspan x="1645" dy="12.5">胞的吸水和失水、水分的运输、利用和散失以</tspan><tspan x="1645" dy="12.5">及合理灌溉等方面的知识内容。</tspan></text></g>
<g id="b2-c2"><rect x="1640" y="796" width="197" height="21.5" rx="3"/><text x="1645" y="810.5">1、渗透作用的原理和植物细胞的吸水和失水</text></g>
<g id="b2-c3"><rect x="1640" y="1115" width="134" height="21.5" rx="3"/><text x="1645" y="1129.5">2、水分的运输、利用和散失</text></g>
<g id="b2-c4"><rect x="1640" y="1282" width="206" height="34" rx="3"/><text y="1296.5"><tspan x="1645">3、本节的最后教材联系生产和生活实际，简</tspan><tspan x="1645" dy="12.5">要讲述了合理灌溉的原理和应用。</tspan></text></g>
<g id="b2-d1"><rect x="1861" y="679.5" width="206" height="109" rx="3"/><text y="694"><tspan x="1866">教材选简要介绍了一下植物吸收水分的器官(</tspan><tspan x="1866" dy="12.5">主要器官是根，叶等器官也可以吸收水分)、</tspan><tspan x="1866" dy="12.5">吸收水分的部位(主要是根尖的成熟区的表皮</tspan><tspan x="1866" dy="12.5">细胞)、植物根尖的结构、以及植物吸收水的</tspan><tspan x="1866" dy="12.5">两种主要方式，即吸胀吸水和渗透吸水，指出</tspan><tspan x="1866" dy="12.5">未成熟的植物细胞，还没有形成大液泡，主要</tspan><tspan x="1866" dy="12.5">依靠吸胀作用吸水;而成熟的植物细胞，即有</tspan><tspan x="1866" dy="12.5">大液泡的细胞主要以渗透作用方式吸收水分。</tspan></text></g>
<g id="b2-d2"><rect x="1861" y="862" width="206" height="34" rx="3"/><text y="876.5"><tspan x="1866">为使学生更好地理解渗透吸水原理，教材通过</tspan><tspan x="1866" dy="12.5">分析渗透装置，总结出:</tspan></text></g>
<g id="b2-e1"><rect x="2085" y="812" width="206" height="34" rx="3"/><text y="826.5"><tspan x="2090">(1)渗透作用的概念，即渗透作用是指水分子</tspan><tspan x="2090" dy="12.5">，或其他溶剂分子通过半透膜的扩散。</tspan></text></g>
<g id="b2-e2"><rect x="2085" y="903" width="206" height="46.5" rx="3"/><text y="917.5"><tspan x="2090">(2)发生渗透作用的两个条件。即一是具有半</tspan><tspan x="2090" dy="12.5">透膜，二是半透膜两侧的溶液之间具有浓度差</tspan><tspan x="2090" dy="12.5">。</tspan></text></g>
<g id="b2-f1"><rect x="2311" y="868" width="206" height="46.5" rx="3"/><text y="882.5"><tspan x="2316">接着分析为什么一个成熟植物细胞就是一个</tspan><tspan x="2316" dy="12.5">渗透系统，指出当成熟的植物细胞处于上述两</tspan><tspan x="2316" dy="12.5">个条件时，就会发生渗透作用。</tspan></text></g>
<g id="b2-f2"><rect x="2311" y="938" width="206" height="46.5" rx="3"/><text y="952.5"><tspan x="2316">然后安排学生做《实验九、观察植物细胞的质壁</tspan><tspan x="2316" dy="12.5">分离与复原》，以验证成熟植物细胞是一</tspan><tspan x="2316" dy="12.5">个渗透系统。</tspan></text></g>
<g id="b2-h1"><rect x="1792" y="1006" width="206" height="34" rx="3"/><text y="1020.5"><tspan x="1797">水分是如何从根毛细胞最终进入植物体的每一</tspan><tspan x="1797" dy="12.5">个细胞的呢?</tspan></text></g>
<g id="b2-h2"><rect x="1792" y="1104" width="206" height="34" rx="3"/><text y="1118.5"><tspan x="1797">(1)教材先分析了土壤溶液中的水分进入根尖</tspan><tspan x="1797" dy="12.5">以内的导管的两条途径</tspan></text></g>
<g id="b2-h3"><rect x="1792" y="1200.5" width="206" height="59" rx="3"/><text y="1215"><tspan x="1797">(2)教材接着又简单介绍了水分如何通过根、</tspan><tspan x="1797" dy="12.5">茎、叶中的导管在植物体内的运输、以及少部</tspan><tspan x="1797" dy="12.5">分水被植物体利用和大部分水通过蒸腾作用散</tspan><tspan x="1797" dy="12.5">失掉的情况</tspan></text></g>
<g id="b2-i1"><rect x="2017" y="1063" width="206" height="46.5" rx="3"/><text y="1077.5"><tspan x="2022">①另一条途径是通过渗透作用进入根尖成熟区</tspan><tspan x="2022" dy="12.5">的表皮细胞，并且通过成熟区表皮细胞以内的</tspan><tspan x="2022" dy="12.5">层层细胞向内渗入，最终进入导管。</tspan></text></g>
<g id="b2-i2"><rect x="2017" y="1132" width="206" height="46.5" rx="3"/><text y="1146.5"><tspan x="2022">②一条途径是通过成熟区表皮细胞细胞壁，以</tspan><tspan x="2022" dy="12.5">及成熟区表皮细胞以内层层细胞之间的细胞间</tspan><tspan x="2022" dy="12.5">隙向里渗入，最终进入导管。</tspan></text></g>
</g>

<!-- Branch 4 -->
<g id="n4" class="m"><rect x="1448" y="2461" width="172" height="30" rx="8" fill="#e5e8c6"/><text x="1534" y="2480.5">高二生物必修课教学设计4</text></g>
<g class="b4">
<g id="b4-v1"><rect x="1640" y="1893" width="72" height="21.5" rx="3"/><text x="1645" y="1907.5">一、教材分析</text></g>
<g id="b4-j1"><rect x="1727" y="1338" width="206" height="134" rx="3"/><text y="1352.5"><tspan x="1732">本节课主要内容包括“染色体结构的变异”“染</tspan><tspan x="1732" dy="12.5">色体数目的变异”以及实验“低温诱导染色体数</tspan><tspan x="1732" dy="12.5">目的变化”，染色体结构的变异是需要学生了</tspan><tspan x="1732" dy="12.5">解的内容，教材通过4个示意图直观形象地说</tspan><tspan x="1732" dy="12.5">明了染色体结构变异的类型。染色体数目的变</tspan><tspan x="1732" dy="12.5">异是本节的教学重点,涉及染色体组、二倍体</tspan><tspan x="1732" dy="12.5">、多倍体、单倍体等概念，其中“染色体组”是</tspan><tspan x="1732" dy="12.5">本节课的核心概念之--。理解该概念，才能正</tspan><tspan x="1732" dy="12.5">确理解依据染色体数目变异衍生出的单倍体育</tspan><tspan x="1732" dy="12.5">种技术和多倍体育种技术。</tspan></text></g>
<g id="b4-j2"><rect x="1727" y="1495.5" width="206" height="109" rx="3"/><text y="1510"><tspan x="1732">学习本节之前,学生e经学习了近德尔的豌豆杂</tspan><tspan x="1732" dy="12.5">交实验(即遗传规律)、减数分裂、DNA的结构</tspan><tspan x="1732" dy="12.5">与功能以及基因概念和功能的知识。因此,将</tspan><tspan x="1732" dy="12.5">基因突变基因重组和染色体变异的知识结合,</tspan><tspan x="1732" dy="12.5">能帮助学生构建更为直观而完整的知识体系,</tspan><tspan x="1732" dy="12.5">有助于学生对“遗传和变异”整体理解，也可为</tspan><tspan x="1732" dy="12.5">介绍人类遗传病、生物育种及生物进化等知识</tspan><tspan x="1732" dy="12.5">作铺垫。</tspan></text></g>
<g id="b4-j3"><rect x="1727" y="1629" width="206" height="96.5" rx="3"/><text y="1643.5"><tspan x="1732">染色体变异发生在细胞分裂过程中,是细胞分</tspan><tspan x="1732" dy="12.5">裂异常产生的结果,因此细胞分裂是染色体变</tspan><tspan x="1732" dy="12.5">异的细胞学基础。如果以学生已经掌握的细胞</tspan><tspan x="1732" dy="12.5">分裂为基础，引导学生进行自主学习，将会大</tspan><tspan x="1732" dy="12.5">大地降低学习的难度，并能有效帮助学生从已</tspan><tspan x="1732" dy="12.5">有知识中构建出新的知识,从而激发学生的学</tspan><tspan x="1732" dy="12.5">习动力。</tspan></text></g>
<g id="b4-j4"><rect x="1727" y="1748" width="142" height="21.5" rx="3"/><text x="1732" y="1762.5">本节主要的知识点及突破方法</text></g>
<g id="b4-j5"><rect x="1727" y="1792.5" width="206" height="59" rx="3"/><text y="1807"><tspan x="1732">本节教学内容的难点较集中，如染色体组的概</tspan><tspan x="1732" dy="12.5">念及数目判断方法,单倍体、二倍体和多倍体</tspan><tspan x="1732" dy="12.5">之间的关系，多倍体和单倍体育种等方面,突</tspan><tspan x="1732" dy="12.5">破方法如下</tspan></text></g>
<g id="b4-j6"><rect x="1727" y="1874" width="206" height="121.5" rx="3"/><text y="1888.5"><tspan x="1732">(1)染色体组概念:以辨图、设问、讨论和复习</tspan><tspan x="1732" dy="12.5">的方式理解染色体组的概念。染色体组的概念</tspan><tspan x="1732" dy="12.5">较为复杂，如果直接讲述,学生很难理解其实</tspan><tspan x="1732" dy="12.5">质。可以从展示男性人体染色体组成自制模型</tspan><tspan x="1732" dy="12.5">,让学生回顾同源染色体的概念,然后将人类染</tspan><tspan x="1732" dy="12.5">色体分成两组，让学生观察并讨论两组染色体</tspan><tspan x="1732" dy="12.5">组异同点等方式人手，设置一系列的问题情境</tspan><tspan x="1732" dy="12.5">,通过联系以前所学的知识，帮助学生认识染</tspan><tspan x="1732" dy="12.5">色体组的概念。</tspan></text></g>
<g id="b4-j7"><rect x="1727" y="2019.5" width="206" height="109" rx="3"/><text y="2034"><tspan x="1732">(2)单倍体、二倍体和多倍体概念:通过具体实</tspan><tspan x="1732" dy="12.5">例概念的辨析和对比，认识单倍体、二倍体和</tspan><tspan x="1732" dy="12.5">多倍体之间的关系。单倍体的概念是教学中的</tspan><tspan x="1732" dy="12.5">难点。教师可以采用教材中提供的蜜蜂的实例</tspan><tspan x="1732" dy="12.5">来分析蜂王、工蜂和雄蜂体内的染色体组数目</tspan><tspan x="1732" dy="12.5">,提出单倍体的概念,并设置一些问题情境，让</tspan><tspan x="1732" dy="12.5">学生区分单倍体与一倍体,单倍体、二倍体与</tspan><tspan x="1732" dy="12.5">多倍体之间的区别和联系。</tspan></text></g>
<g id="b4-j8"><rect x="1727" y="2150" width="206" height="84" rx="3"/><text y="2164.5"><tspan x="1732">(3)单倍体与多倍体育种:用图解、事例和图表</tspan><tspan x="1732" dy="12.5">的形式引导学生学习多倍体和单倍体育种，二</tspan><tspan x="1732" dy="12.5">倍体、多倍体和单习是建立在这些概念的基础</tspan><tspan x="1732" dy="12.5">之上的。单倍体具有可比性将多倍体和单伤体</tspan><tspan x="1732" dy="12.5">育种放在一-起来学习，有助于学生对概念的</tspan><tspan x="1732" dy="12.5">理解。同时,育种的学</tspan></text></g>
<g id="b4-j9"><rect x="1727" y="2258" width="206" height="34" rx="3"/><text y="2272.5"><tspan x="1732">(4)染色体结构变异:以辨图、设问、讨论的方</tspan><tspan x="1732" dy="12.5">式理解染色体结构变异。</tspan></text></g>
<g id="b4-j10"><rect x="1727" y="2378" width="206" height="46.5" rx="3"/><text y="2392.5"><tspan x="1732">(5)“低温诱导植物染色体数目的变化”的实验:</tspan><tspan x="1732" dy="12.5">学生先进行实验设计,制定实验方案后,第2节</tspan><tspan x="1732" dy="12.5">课进行实验操作。二、学情分析</tspan></text></g>
<g id="b4-k"><rect x="1954" y="2315.5" width="206" height="171.5" rx="3"/><text y="2330"><tspan x="1959">作为高二学生已经学过染色体、同源染色体非</tspan><tspan x="1959" dy="12.5">同源染色体等概念，为染色体组等新概念的构</tspan><tspan x="1959" dy="12.5">建奠定了认知基础，前面学习的有丝分裂、减</tspan><tspan x="1959" dy="12.5">数分裂和受精作用、染色体是遗传物质的载体</tspan><tspan x="1959" dy="12.5">等基础知识,为创设问题情境，新旧知识融会</tspan><tspan x="1959" dy="12.5">贯通形成完整的认知结构，开展探究性学习提</tspan><tspan x="1959" dy="12.5">供了可能。大多数学生对学习有精情，但学习</tspan><tspan x="1959" dy="12.5">的主动性不强,使之深层次的思考,对基本概念</tspan><tspan x="1959" dy="12.5">、过程和原理往往一一知半辨，不能灵活运用</tspan><tspan x="1959" dy="12.5">所学知识。因此，教学中应设置好问题情境，</tspan><tspan x="1959" dy="12.5">让学生观察动手，思考和讨论，适时引导追时</tspan><tspan x="1959" dy="12.5">启发和酒时效励由浅人深,构建染色体组等基</tspan><tspan x="1959" dy="12.5">本概念</tspan></text></g>
<g id="b4-v3"><rect x="1640" y="2650" width="72" height="21.5" rx="3"/><text x="1645" y="2664.5">三、教学目标</text></g>
<g id="b4-w1"><rect x="1727" y="2544" width="72" height="21.5" rx="3"/><text x="1732" y="2558.5">(一)生命观念</text></g>
<g id="b4-w2"><rect x="1727" y="2628" width="72" height="21.5" rx="3"/><text x="1732" y="2642.5">(二)科学思维</text></g>
<g id="b4-w3"><rect x="1727" y="2678" width="72" height="21.5" rx="3"/><text x="1732" y="2692.5">(三)科学探究</text></g>
<g id="b4-w4"><rect x="1727" y="2756" width="72" height="21.5" rx="3"/><text x="1732" y="2770.5">(四)社会责任</text></g>
<g id="b4-l1"><rect x="1812" y="2509" width="206" height="34" rx="3"/><text y="2523.5"><tspan x="1817">1.说出染色体变异与基因突变、基因重组的区</tspan><tspan x="1817" dy="12.5">别。</tspan></text></g>
<g id="b4-l2"><rect x="1812" y="2566" width="206" height="34" rx="3"/><text y="2580.5"><tspan x="1817">2.理解染色体组、单倍体、多倍体的概念、内</tspan><tspan x="1817" dy="12.5">涵和相互之间的关系。</tspan></text></g>
<g id="b4-l3"><rect x="1812" y="2622" width="206" height="34" rx="3"/><text y="2636.5"><tspan x="1817">1.举例说出单倍体育种、多倍体育种在生产中</tspan><tspan x="1817" dy="12.5">的应用</tspan></text></g>
<g id="b4-l4"><rect x="1812" y="2678" width="100" height="21.5" rx="3"/><text x="1817" y="2692.5">1.体验科学探究过程</text></g>
<g id="b4-l5"><rect x="1812" y="2721" width="206" height="34" rx="3"/><text y="2735.5"><tspan x="1817">1.体验科学探究过程，培养学生质疑、求实、</tspan><tspan x="1817" dy="12.5">创新的科学态度和精神。</tspan></text></g>
<g id="b4-l6"><rect x="1812" y="2777" width="206" height="34" rx="3"/><text y="2791.5"><tspan x="1817">2.学生在合作的过程中学会与人交流、尊重他</tspan><tspan x="1817" dy="12.5">人。</tspan></text></g>
<g id="b4-v4"><rect x="1640" y="2881" width="102" height="21.5" rx="3"/><text x="1645" y="2895.5">四、教学重点和难点</text></g>
<g id="b4-z1"><rect x="1756" y="2835" width="132" height="21.5" rx="3"/><text x="1761" y="2849.5">重点：说出染色体数目变异</text></g>
<g id="b4-z2"><rect x="1756" y="2878" width="128" height="21.5" rx="3"/><text x="1761" y="2892.5">难点：1.理解染色体组概念</text></g>
<g id="b4-z3"><rect x="1756" y="2922" width="206" height="34" rx="3"/><text y="2936.5"><tspan x="1761">2.理解二倍体、多倍体和单倍体的概念及其联</tspan><tspan x="1761" dy="12.5">系</tspan></text></g>
<g id="b4-v5"><rect x="1640" y="3041" width="72" height="21.5" rx="3"/><text x="1645" y="3055.5">五、教学策略</text></g>
<g id="b4-y1"><rect x="1727" y="2978" width="206" height="34" rx="3"/><text y="2992.5"><tspan x="1732">1.通过多媒体直观了解染色体结构变异的概念</tspan><tspan x="1732" dy="12.5">、种类</tspan></text></g>
<g id="b4-y2"><rect x="1727" y="3034" width="206" height="34" rx="3"/><text y="3048.5"><tspan x="1732">2.通过具体事例、概念的辨析和对比，认识染</tspan><tspan x="1732" dy="12.5">色体结构变异</tspan></text></g>
<g id="b4-y3"><rect x="1727" y="3091" width="206" height="34" rx="3"/><text y="3105.5"><tspan x="1732">3.以辨图、设问讨论的方式理解染色体结构变</tspan><tspan x="1732" dy="12.5">异</tspan></text></g>
</g>

<!-- Related articles -->
<g id="n6" class="m"><rect x="1448" y="3331" width="243" height="46" rx="23" fill="#a9d7c9"/><text x="1569.5" y="3359" style="font-size:14px">高二生物必修课教学设计相关文章</text></g>
<g class="b6">
<g id="r1"><rect x="1707" y="3147.25" width="145" height="21.5" rx="3"/><text x="1712" y="3161.75">★ 人教版高二生物教学设计5篇</text></g>
<g id="r2"><rect x="1707" y="3191.25" width="180" height="21.5" rx="3"/><text x="1712" y="3205.75">★ 关于优秀高二生物课程教学设计方案</text></g>
<g id="r3"><rect x="1707" y="3234.25" width="135" height="21.5" rx="3"/><text x="1712" y="3248.75">★ 人教版高二生物必修2教案</text></g>
<g id="r4"><rect x="1707" y="3278.25" width="121" height="21.5" rx="3"/><text x="1712" y="3292.75">★ 高二优秀生物教案范文</text></g>
<g id="r5"><rect x="1707" y="3321.25" width="162" height="21.5" rx="3"/><text x="1712" y="3335.75">★ 关于高二生物教学设计案例2021</text></g>
<g id="r6"><rect x="1707" y="3364.25" width="116" height="21.5" rx="3"/><text x="1712" y="3378.75">★ 高二高三生物教案5篇</text></g>
<g id="r7"><rect x="1707" y="3408.25" width="170" height="21.5" rx="3"/><text x="1712" y="3422.75">★ 关于高中生物课堂理论课教学设计</text></g>
<g id="r8"><rect x="1707" y="3452.25" width="150" height="21.5" rx="3"/><text x="1712" y="3466.75">★ 高二生物选修一全套教案范文</text></g>
<g id="r9"><rect x="1707" y="3495.25" width="150" height="21.5" rx="3"/><text x="1712" y="3509.75">★ 高一生物必修二教学设计方案</text></g>
<g id="r10"><rect x="1707" y="3539.25" width="145" height="21.5" rx="3"/><text x="1712" y="3553.75">★ 新课标高二生物教学计划5篇</text></g>
</g>

<g id="watermarks" class="w">
<text transform="translate(640 545) rotate(-30)">树图 <tspan font-style="italic">shutu.cn</tspan></text>
<text transform="translate(1925 550) rotate(-30)">树图 <tspan font-style="italic">shutu.cn</tspan></text>
<text transform="translate(640 1545) rotate(-30)">树图 <tspan font-style="italic">shutu.cn</tspan></text>
<text transform="translate(1925 1550) rotate(-30)">树图 <tspan font-style="italic">shutu.cn</tspan></text>
<text transform="translate(640 2545) rotate(-30)">树图 <tspan font-style="italic">shutu.cn</tspan></text>
<text transform="translate(1925 2550) rotate(-30)">树图 <tspan font-style="italic">shutu.cn</tspan></text>
<text transform="translate(640 3545) rotate(-30)">树图 <tspan font-style="italic">shutu.cn</tspan></text>
<text transform="translate(1925 3520) rotate(-30)">树图 <tspan font-style="italic">shutu.cn</tspan></text>
</g>
</svg>
